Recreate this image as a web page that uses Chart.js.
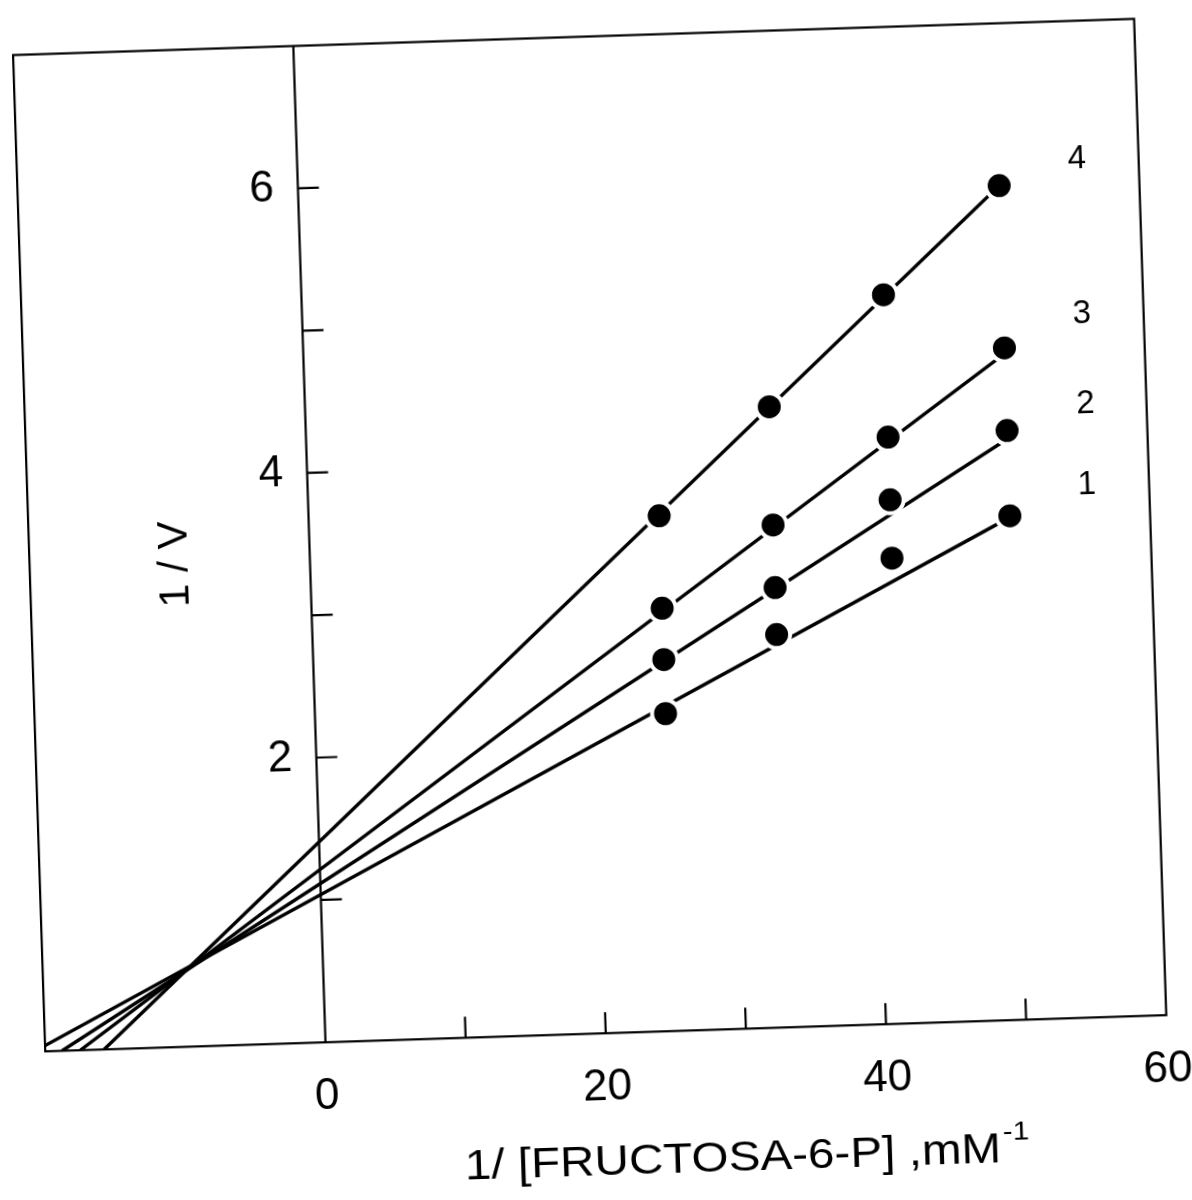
<!DOCTYPE html>
<html><head><meta charset="utf-8">
<script src="https://cdn.jsdelivr.net/npm/chart.js@4.4.1/dist/chart.umd.min.js"></script>
<style>
html,body{margin:0;padding:0;background:#fff;overflow:hidden}
#wrap{position:absolute;left:0;top:0;width:1192px;height:1200px;}
#c{position:absolute;left:0;top:0;transform:rotate(-1.85deg);transform-origin:325.5px 1042.3px;}
</style></head><body>
<div id="wrap"><canvas id="c" width="1192" height="1200"></canvas></div>
<script>
// ---- data ----
const xValues = [25, 33.1, 41.5, 50];
const series1 = [2.23, 2.76, 3.27, 3.54];
const series2 = [2.61, 3.09, 3.68, 4.14];
const series3 = [2.97, 3.53, 4.12, 4.72];
const series4 = [3.62, 4.36, 5.12, 5.86];
const seriesNames = ['1', '2', '3', '4'];
// fitted straight lines (end points)
const fitStartX = [-20, -18.8, -17.5, -15.8];
const fitStartY = [0.04, 0, 0, 0];
const fitEndX = [50, 50, 50, 50];
const fitEndY = [3.53, 4.08, 4.68, 5.86];
// curve label anchors
const curveLabelX = [55.55, 55.65, 55.6, 55.6];
const curveLabelY = [3.74, 4.31, 4.94, 6.03];
// axes
const xMin = -20, xMax = 60, yMin = 0, yMax = 7.0;
const xTickMarks = [10, 20, 30, 40, 50];
const xTickLabelValues = [0, 20, 40, 60];
const xTickLabels = ['0', '20', '40', '60'];
const yTickMarks = [1, 2, 3, 4, 5, 6];
const yTickLabelValues = [2, 4, 6];
const yTickLabels = ['2', '4', '6'];
const xTitle = '1/ [FRUCTOSA-6-P] ,mM';
const xTitleSup = '-1';
const yTitle = '1 / V';

const allSeries = [series1, series2, series3, series4];
const FONT = '"Liberation Sans", Arial, sans-serif';

const datasets = [];
allSeries.forEach((s, i) => {
  datasets.push({
    label: 'Serie ' + seriesNames[i],
    type: 'scatter',
    data: xValues.map((x, j) => ({x: x, y: s[j]})),
    showLine: false,
    pointRadius: 13.5,
    pointHoverRadius: 13.5,
    backgroundColor: '#000',
    pointBorderColor: '#fff',
    pointBorderWidth: 4,
    order: 0
  });
});
allSeries.forEach((s, i) => {
  datasets.push({
    label: 'Recta ' + seriesNames[i],
    type: 'line',
    data: [{x: fitStartX[i], y: fitStartY[i]}, {x: fitEndX[i], y: fitEndY[i]}],
    borderColor: '#000',
    borderWidth: 3.4,
    pointRadius: 0,
    fill: false,
    tension: 0,
    order: 1
  });
});

const decor = {
  id: 'decor',
  beforeDatasetsDraw(chart) {
    const {ctx, chartArea: a, scales: {x, y}} = chart;
    ctx.save();
    ctx.strokeStyle = '#000';
    ctx.lineWidth = 2.2;
    ctx.strokeRect(a.left, a.top, a.right - a.left, a.bottom - a.top);
    const x0 = x.getPixelForValue(0);
    ctx.beginPath();
    ctx.moveTo(x0, a.top); ctx.lineTo(x0, a.bottom);
    xTickMarks.forEach(v => {
      const px = x.getPixelForValue(v);
      ctx.moveTo(px, a.bottom); ctx.lineTo(px, a.bottom - 21);
    });
    yTickMarks.forEach(v => {
      const py = y.getPixelForValue(v);
      ctx.moveTo(x0, py); ctx.lineTo(x0 + 21, py);
    });
    ctx.stroke();
    ctx.restore();
  },
  afterDraw(chart) {
    const {ctx, chartArea: a, scales: {x, y}} = chart;
    const x0 = x.getPixelForValue(0);
    ctx.save();
    ctx.fillStyle = '#000';
    ctx.textBaseline = 'middle';
    // x tick labels
    ctx.font = '44px ' + FONT;
    ctx.textAlign = 'center';
    xTickLabelValues.forEach((v, i) => {
      ctx.fillText(xTickLabels[i], x.getPixelForValue(v), a.bottom + 55);
    });
    // y tick labels
    ctx.textAlign = 'right';
    yTickLabelValues.forEach((v, i) => {
      ctx.fillText(yTickLabels[i], x0 - 24, y.getPixelForValue(v));
    });
    // curve labels
    ctx.font = '33px ' + FONT;
    ctx.textAlign = 'center';
    seriesNames.forEach((n, i) => {
      ctx.fillText(n, x.getPixelForValue(curveLabelX[i]), y.getPixelForValue(curveLabelY[i]));
    });
    // y title
    ctx.save();
    ctx.font = '42px ' + FONT;
    ctx.translate(x.getPixelForValue(-9.56), y.getPixelForValue(3.39));
    ctx.rotate(-Math.PI / 2);
    ctx.textAlign = 'center';
    ctx.fillText(yTitle, 0, 0);
    ctx.restore();
    // x title (stretched to reference width)
    ctx.save();
    ctx.font = '42px ' + FONT;
    const wMain = ctx.measureText(xTitle).width;
    ctx.font = '26px ' + FONT;
    const wSup = ctx.measureText(xTitleSup).width;
    const target = 565;
    const sx = target / (wMain + wSup + 2);
    const cx = x.getPixelForValue(29.8);
    const cy = a.bottom + 130;
    ctx.translate(cx - target / 2, cy);
    ctx.scale(sx, 1);
    ctx.textAlign = 'left';
    ctx.font = '42px ' + FONT;
    ctx.fillText(xTitle, 0, 0);
    ctx.font = '26px ' + FONT;
    ctx.fillText(xTitleSup, wMain + 2, -17);
    ctx.restore();
    ctx.restore();
  }
};

new Chart(document.getElementById('c'), {
  type: 'scatter',
  data: {datasets: datasets},
  options: {
    responsive: false,
    animation: false,
    devicePixelRatio: 1,
    layout: {padding: {left: 45.1, right: 25.3, top: 45.5, bottom: 157.7}},
    plugins: {legend: {display: false}, tooltip: {enabled: false}, title: {display: false}},
    scales: {
      x: {type: 'linear', min: xMin, max: xMax, display: false},
      y: {type: 'linear', min: yMin, max: yMax, display: false}
    }
  },
  plugins: [decor]
});
</script>
</body></html>
